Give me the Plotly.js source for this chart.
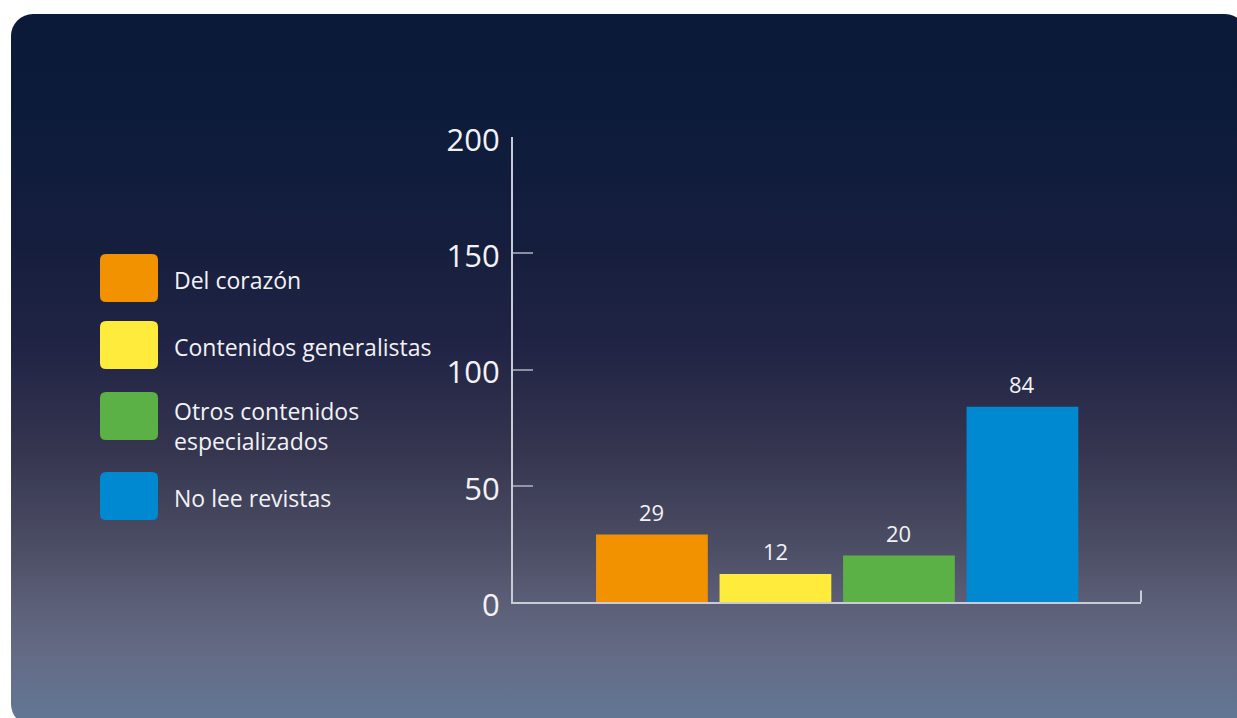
<!DOCTYPE html>
<html>
<head>
<meta charset="utf-8">
<script src="https://cdn.plot.ly/plotly-3.0.1.min.js"></script>
<style>
  html, body { margin: 0; padding: 0; background: #ffffff; width: 1237px; height: 718px; overflow: hidden; }
  #bg {
    position: absolute; left: 11px; top: 14px; width: 1236px; height: 712px;
    border-radius: 22px;
    background: linear-gradient(to bottom,
      #0a1a38 0%, #0c1b3a 12%, #161e3e 33%, #222545 48%, #363650 62%,
      #4e5067 76%, #5c5f78 83%, #646b85 90%, #627896 100%);
  }
  #chart { position: absolute; left: 0; top: 0; width: 1237px; height: 718px; }
</style>
</head>
<body>
<div id="bg"></div>
<div id="chart"></div>
<script>
// ---- data ----
const categories = ["Del corazón", "Contenidos generalistas", "Otros contenidos especializados", "No lee revistas"];
const legendLabels = ["Del corazón", "Contenidos generalistas", "Otros contenidos<br>especializados", "No lee revistas"];
const values = [29, 12, 20, 84];
const barColors = ["#f39200", "#ffeb3b", "#5bb146", "#0088d1"];
const yTickValues = [0, 50, 100, 150, 200];

// ---- layout helpers ----
const W = 1237, H = 718;
const plotLeft = 513, plotRight = 1141, plotTop = 137, plotBottom = 602;
const px2paperX = p => (p - plotLeft) / (plotRight - plotLeft);
const py2paperY = p => (plotBottom - p) / (plotBottom - plotTop);
const FONT = "Open Sans, Noto Sans, sans-serif";

const legendCenters = [278, 345, 416, 496];

const shapes = [];
const annotations = [];

// legend swatches (rounded squares) and labels
function roundedRect(w, h, r) {
  const x0 = -w / 2, x1 = w / 2, y0 = -h / 2, y1 = h / 2;
  return `M ${x0 + r} ${y0} L ${x1 - r} ${y0} Q ${x1} ${y0} ${x1} ${y0 + r} ` +
         `L ${x1} ${y1 - r} Q ${x1} ${y1} ${x1 - r} ${y1} ` +
         `L ${x0 + r} ${y1} Q ${x0} ${y1} ${x0} ${y1 - r} ` +
         `L ${x0} ${y0 + r} Q ${x0} ${y0} ${x0 + r} ${y0} Z`;
}
categories.forEach((c, i) => {
  shapes.push({
    type: "path", xref: "paper", yref: "paper",
    xsizemode: "pixel", ysizemode: "pixel",
    xanchor: px2paperX(129), yanchor: py2paperY(legendCenters[i]),
    path: roundedRect(58, 48, 6),
    fillcolor: barColors[i], line: { width: 0 }
  });
  annotations.push({
    xref: "paper", yref: "paper",
    x: px2paperX(172), y: py2paperY(legendCenters[i] + (i === 2 ? 10 : 2)),
    xanchor: "left", yanchor: "middle", align: "left",
    text: legendLabels[i], showarrow: false,
    font: { family: FONT, size: 23, color: "#f2f2f5" }
  });
});

// value labels above bars
values.forEach((v, i) => {
  annotations.push({
    x: i, y: v, xref: "x", yref: "y",
    text: String(v), showarrow: false,
    yanchor: "bottom", yshift: 6,
    font: { family: FONT, size: 22, color: "#f2f2f5" }
  });
});

// end tick at right of x axis
shapes.push({
  type: "line", xref: "x domain", yref: "y",
  x0: 1, x1: 1, y0: 0, y1: 5,
  line: { color: "#c9cbd6", width: 2 }
});

const trace = {
  type: "bar",
  x: categories.map((c, i) => i),
  y: values,
  width: 0.905,
  marker: { color: barColors, line: { width: 0 } },
  hoverinfo: "skip",
  showlegend: false
};

const layout = {
  width: W, height: H,
  paper_bgcolor: "rgba(0,0,0,0)",
  plot_bgcolor: "rgba(0,0,0,0)",
  margin: { l: plotLeft, r: W - plotRight, t: plotTop, b: H - plotBottom, pad: 0 },
  showlegend: false,
  font: { family: FONT, color: "#f2f2f5" },
  xaxis: {
    range: [-1.125, 3.96],
    showticklabels: false, ticks: "",
    showgrid: false, zeroline: false,
    showline: true, linecolor: "#c9cbd6", linewidth: 2,
    fixedrange: true
  },
  yaxis: {
    range: [0, 200],
    tickvals: yTickValues,
    ticktext: yTickValues.map(String),
    ticks: "inside", ticklen: 20, tickwidth: 2, tickcolor: "rgba(185,188,202,0.7)",
    ticklabelstandoff: 5,
    ticklabelshift: 3,
    tickfont: { family: FONT, size: 31, color: "#f2f2f5" },
    showgrid: false, zeroline: false,
    showline: true, linecolor: "#c9cbd6", linewidth: 2,
    fixedrange: true
  },
  shapes: shapes,
  annotations: annotations
};

Plotly.newPlot("chart", [trace], layout, { displayModeBar: false, staticPlot: true });
</script>
</body>
</html>
